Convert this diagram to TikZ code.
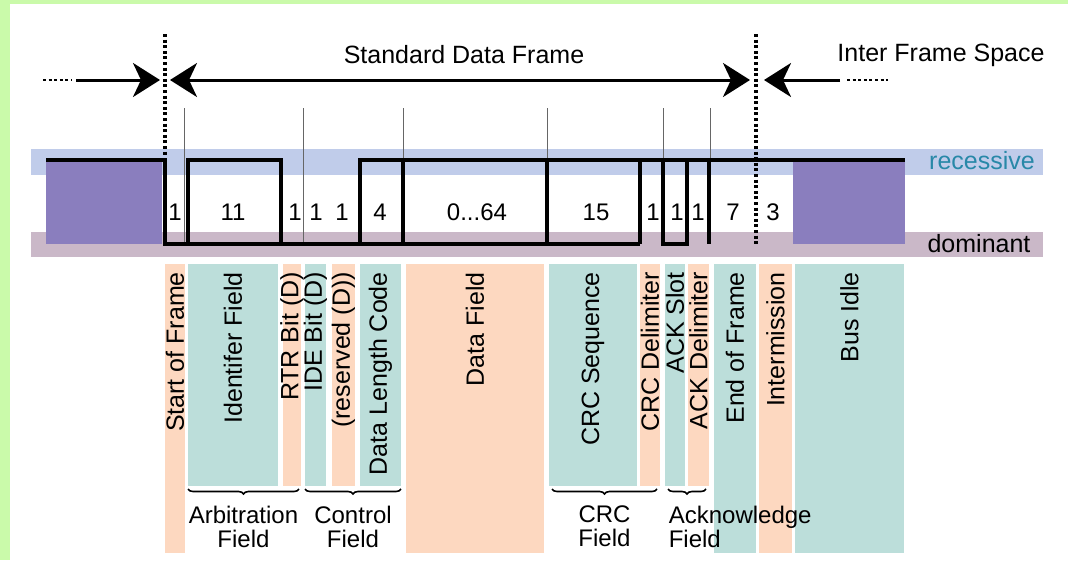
\documentclass[tikz,border=0pt]{standalone}
\usepackage{fontspec}
\setmainfont{Liberation Sans}
\usetikzlibrary{decorations.pathreplacing,arrows.meta,positioning}
\definecolor{bgGreen}{RGB}{202,250,170}
\definecolor{recBand}{RGB}{192,204,234}
\definecolor{domBand}{RGB}{202,184,200}
\definecolor{idlePurple}{RGB}{138,126,190}
\definecolor{peach}{RGB}{253,216,192}
\definecolor{mint}{RGB}{188,222,218}
\definecolor{recText}{RGB}{40,136,168}

\begin{document}
\begin{tikzpicture}[x=1pt,y=-1pt,
  wave/.style={line width=3.5pt},
  guide/.style={draw=black!60,line width=1pt},
  frameEdge/.style={line width=3.2pt,dash pattern=on 3pt off 2.6pt},
  dotRun/.style={line width=2.6pt,dash pattern=on 3pt off 2.6pt},
  spanLine/.style={line width=3pt},
  bigTip/.tip={Stealth[length=27pt,width=34pt,inset=8pt]},
  bitNum/.style={font=\fontsize{24}{26}\selectfont},
  topText/.style={font=\fontsize{25}{27}\selectfont},
  fieldName/.style={rotate=90,anchor=east,inner sep=0pt,font=\fontsize{25}{27}\selectfont},
  fieldBrace/.style={decoration={brace,mirror,amplitude=5pt},decorate,line width=1.6pt},
  groupName/.style={align=center,inner sep=0pt,font=\fontsize{24}{24}\selectfont}]

\useasboundingbox (0,0) rectangle (1068,560);
\fill[bgGreen] (0,0) rectangle (1068,560);
\fill[white] (10,4) rectangle (1068,560);

\fill[recBand] (31,149) rectangle (1043,175);
\fill[domBand] (31,232) rectangle (1043,257);
\node[topText,text=recText] (rec) at (982,161) {recessive};
\node[topText] (dom) at (979,244) {dominant};

\foreach \l/\r/\c/\b/\t [count=\n] in {165/185/peach/553/Start of Frame,188/278/mint/486/Identifer Field,283/301/peach/486/RTR Bit (D),305/326/mint/486/IDE Bit (D),332/355/peach/486/(reserved (D)),360/401/mint/486/Data Length Code,406/544/peach/553/Data Field,549/637/mint/486/CRC Sequence,640/660/peach/486/CRC Delimiter,665/685/mint/486/ACK Slot,688/709/peach/486/ACK Delimiter,714/756/mint/553/End of Frame,759/792/peach/553/Intermission,795/904/mint/553/Bus Idle}
{
  \fill[\c] (\l,264) rectangle (\r,\b);
  \node[fieldName] (f\n) at ({(\l+\r)/2},272) {\t};
}

\foreach \x in {184,303,403,547,663,710}
  \draw[guide] (\x,108) -- (\x,244);

\fill[idlePurple] (46,162) rectangle (162,244);
\fill[idlePurple] (793,162) rectangle (905,244);
\draw[wave] (46,160) -- (165,160) -- (165,244) -- (640,244);
\draw[wave] (188,244) |- (281,160) -- (281,244);
\draw[wave] (360,244) |- (905,160);
\foreach \x in {403,547,640,709}
  \draw[wave] (\x,160) -- (\x,244);
\draw[wave] (663,160) |- (687,244) -- (687,160);

\draw[frameEdge] (165,34) -- (165,155);
\draw[frameEdge] (756,34) -- (756,244);

\foreach \i/\x [count=\n] in {1/175,11/233,1/295,1/316,1/342,4/380,15/596,1/653,1/677,1/698,7/733,3/773}
  \node[bitNum] (n\n) at (\x,212) {\i};
\node[bitNum] (nData) at (477,212) {0...64};

\coordinate (prevEnd) at (76,80);
\coordinate (sofIn) at (160,80);
\coordinate (sofOut) at (170,80);
\coordinate (eofOut) at (750,80);
\coordinate (ifsIn) at (764,80);
\coordinate (ifsEnd) at (840,80);
\draw[dotRun] (43,80) -- (72,80);
\draw[spanLine,-bigTip] (prevEnd) -- (sofIn);
\draw[spanLine,bigTip-bigTip] (sofOut) -- (eofOut);
\draw[spanLine,-bigTip] (ifsEnd) -- (ifsIn);
\draw[dotRun] (847,80) -- (888,80);
\node[topText] (sdf) at (464,55) {Standard Data Frame};
\node[topText] (ifs) at (941,55) {Inter Frame Space};

\draw[fieldBrace] (188,489) -- node[groupName,below=16pt] (arb) {Arbitration\\Field} (299,489);
\draw[fieldBrace] (305,489) -- node[groupName,below=16pt] (ctl) {Control\\Field} (401,489);
\draw[fieldBrace] (552,489) -- node[groupName,below=16pt] (crc) {CRC\\Field} (657,489);
\draw[fieldBrace] (668,489) -- node[pos=0,groupName,below=16pt,anchor=north west,align=left] (ack) {Acknowledge\\Field} (706,489);
\end{tikzpicture}
\end{document}
